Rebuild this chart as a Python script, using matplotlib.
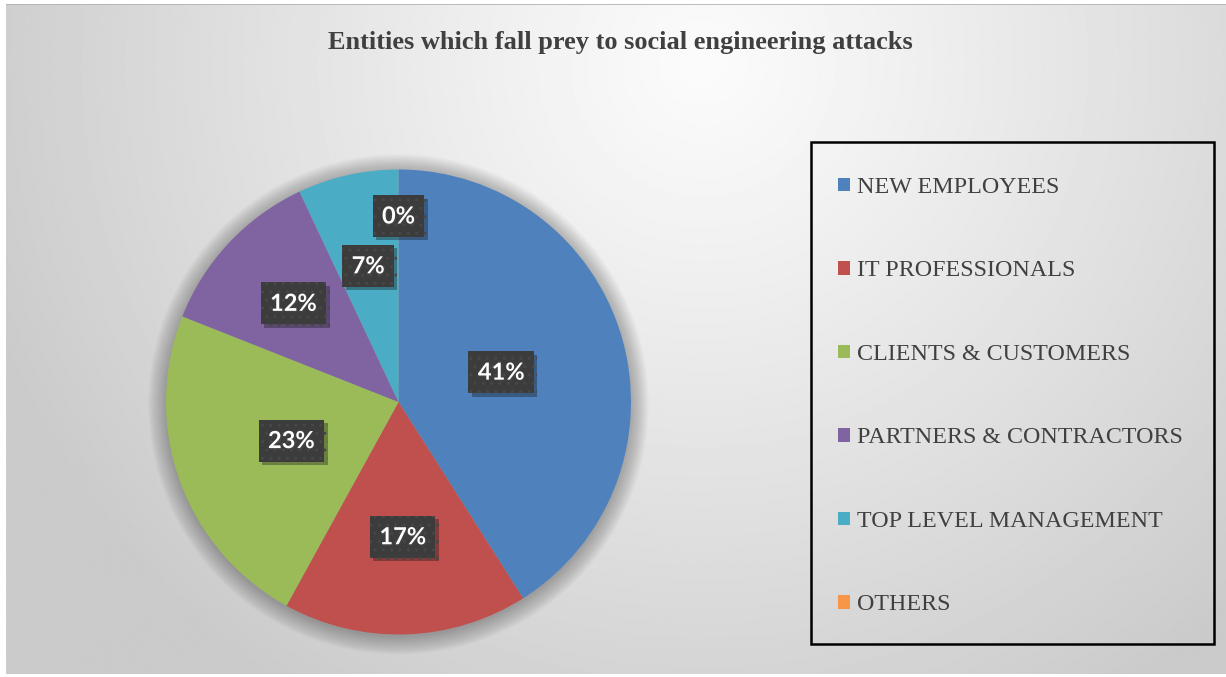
import matplotlib
matplotlib.use("Agg")
import matplotlib.pyplot as plt
import matplotlib.patches as mpatches
import matplotlib.patheffects as pe
import numpy as np

# chart data
categories = ["NEW EMPLOYEES", "IT PROFESSIONALS", "CLIENTS & CUSTOMERS",
              "PARTNERS & CONTRACTORS", "TOP LEVEL MANAGEMENT", "OTHERS"]
values = [41, 17, 23, 12, 7, 0]
colors = ["#4f81bd", "#c0504d", "#9bbb59", "#8064a2", "#4bacc6", "#f79646"]
# how far out each label sits (fraction of radius), like excel's best fit
label_r = [0.46, 0.58, 0.49, 0.62, 0.60, 0.80]

title = "Entities which fall prey to social engineering attacks"

W, H = 1226, 677
fig = plt.figure(figsize=(W / 100, H / 100), dpi=100)
fig.patch.set_facecolor("white")

# radial grey background of the chart area (bright spot top middle)
bg = fig.add_axes([6 / W, 3 / H, 1 - 6 / W, 1 - 7 / H])
bg.set_axis_off()
yy, xx = np.mgrid[0:H, 0:W].astype(float)
d = np.hypot(xx - 700, yy - 60)
shade = 0.985 - 0.19 * np.clip(d / 760, 0, 1) ** 1.1
bg.imshow(shade, cmap="gray", vmin=0, vmax=1, aspect="auto",
          extent=[0, 1, 0, 1], interpolation="bilinear")
bg.set_xlim(0, 1)
bg.set_ylim(0, 1)
bg.plot([0, 1], [1, 1], color="#b0b0b0", lw=1.2, transform=bg.transAxes)

fig.text(620 / W, 1 - 42 / H, title, ha="center", va="center",
         family="Liberation Serif", fontweight="bold", fontsize=19,
         color="#404040")

# pie
r_px = 232.5
pcx, pcy = 398.5, 402
ax = fig.add_axes([(pcx - r_px) / W, 1 - (pcy + r_px) / H,
                   2 * r_px / W, 2 * r_px / H])

# soft outer shadow round the pie
for k in range(18):
    ax.add_patch(mpatches.Circle((0, -0.01), 1.0 + k * 0.0045, color="black",
                                 alpha=0.014, lw=0, clip_on=False, zorder=0))

wedges, _ = ax.pie(values, colors=colors, startangle=90, counterclock=False,
                   wedgeprops=dict(linewidth=0, zorder=1))
ax.set_xlim(-1, 1)
ax.set_ylim(-1, 1)

for w, v, rr in zip(wedges, values, label_r):
    ang = np.deg2rad((w.theta1 + w.theta2) / 2)
    t = ax.text(rr * np.cos(ang), rr * np.sin(ang), f"{v}%", ha="center",
                va="center", family=["Lato", "DejaVu Sans"],
                fontweight="bold", fontsize=17, color="white", zorder=3,
                bbox=dict(boxstyle="square,pad=0.4", facecolor="#3c3c3c",
                          edgecolor="#474747", linewidth=0, hatch=".."))
    t.set_path_effects([pe.withSimplePatchShadow(offset=(1, -1),
                                                 alpha=0.4)])
    t.get_bbox_patch().set_path_effects(
        [pe.SimplePatchShadow(offset=(2.5, -2.5), alpha=0.35), pe.Normal()])

# legend frame and entries
frame = mpatches.Rectangle((811 / W, 1 - 644 / H), (1214 - 811) / W,
                           (644 - 142) / H, transform=fig.transFigure,
                           fill=False, edgecolor="black", linewidth=1.8)
fig.patches.append(frame)

handles = [mpatches.Patch(facecolor=c, edgecolor="none") for c in colors]
fig.legend(handles, categories, loc="upper left",
           bbox_to_anchor=(838 / W, 1 - 177 / H), frameon=False,
           prop=dict(family="Liberation Serif", size=17.3),
           labelcolor="#404040", handlelength=0.5, handleheight=0.5,
           handletextpad=0.3, labelspacing=2.6, borderpad=0, borderaxespad=0)

fig.savefig("out.png", dpi=100, facecolor=fig.get_facecolor())
